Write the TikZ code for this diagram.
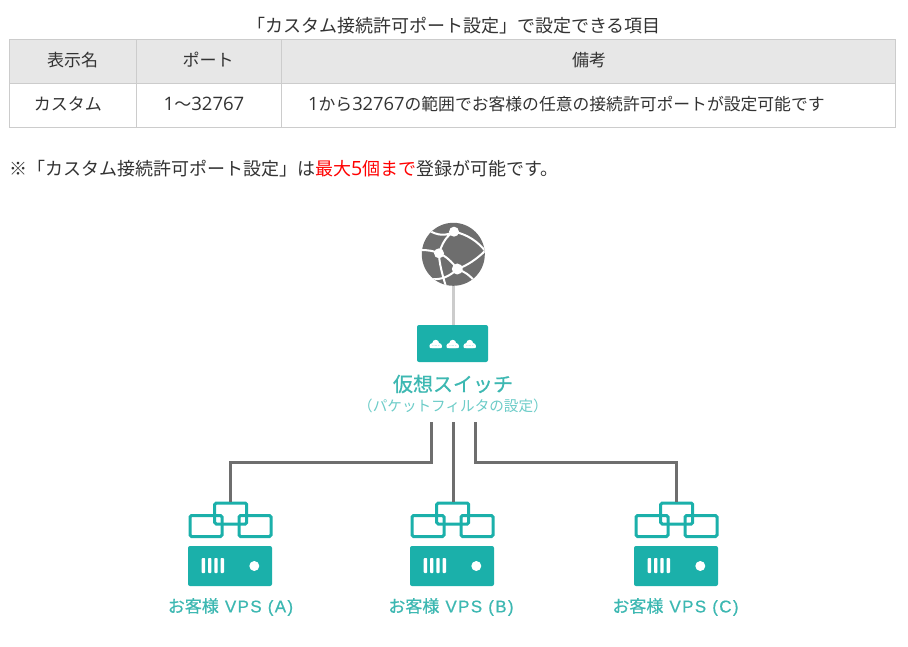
\documentclass[tikz,border=0pt]{standalone}
\usepackage{fontspec}
\setmainfont{Noto Sans CJK JP}
\newfontfamily\dig[Scale=1.09]{Open Sans}
\newfontfamily\medjp[FakeBold=0.6]{Noto Sans CJK JP}
\newfontfamily\medlat[FakeBold=0.5,LetterSpace=8]{Liberation Sans}
\definecolor{txt}{HTML}{333333}
\definecolor{teal}{HTML}{1BB0AA}
\definecolor{tealtxt}{HTML}{3DB8B2}
\definecolor{teallt}{HTML}{6CCCC8}
\definecolor{grid}{HTML}{CCCCCC}
\definecolor{head}{HTML}{E7E7E7}
\definecolor{link}{HTML}{6E6E6E}
\tikzset{
  x=1pt,y=-1pt,
  body/.style={font=\fontsize{17}{20}\selectfont,text=txt,inner sep=0pt},
  bodys/.style={font=\fontsize{16.8}{20}\selectfont,text=txt,inner sep=0pt},
  bodyl/.style={font=\fontsize{18}{20}\selectfont,text=txt,inner sep=0pt},
  cellfill/.style={fill=head,draw=none},
  gridline/.style={draw=grid,line width=1pt},
  wire/.style={draw=link,line width=3pt},
  uplink/.style={draw=grid,line width=3pt},
  netbox/.style={draw=teal,line width=3pt,rounded corners=1.5pt,fill=none,inner sep=0pt,minimum width=32pt,minimum height=21pt},
  solid teal/.style={fill=teal,draw=none,rounded corners=2pt},
  vps/.pic={
    \node[netbox] (-top) at (-0.3,11.5) {};
    \node[netbox] at (-25,24) {};
    \node[netbox] at (24,24) {};
    \fill[solid teal] (-43,44) rectangle (41,84);
    \foreach \dx in {-27.6,-21.3,-15,-8.7} \fill[white,rounded corners=0.8pt] (\dx-1.7,56) rectangle (\dx+1.7,71);
    \fill[white] (23.3,64) circle (5);
  },
  lan/.pic={
    \fill[white] (0,-0.8) circle (3.4) (-3.7,1.6) circle (2.4) (3.7,1.6) circle (2.4) (-3.7,1.6) rectangle (3.7,4);
    \fill[white] (-6.1,1.6) -- (6.1,1.6) -- (6.1,3.2) -- (5.3,4) -- (-5.3,4) -- (-6.1,3.2) -- cycle;
  }
}
\begin{document}
\begin{tikzpicture}
\useasboundingbox (0,0) rectangle (908,647);
\fill[white] (0,0) rectangle (908,647);
% table
\node[bodyl] (title) at (454,26) {「カスタム接続許可ポート設定」で設定できる項目};
\fill[cellfill] (9.5,39.5) rectangle (895.5,83.5);
\draw[gridline] (9.5,39.5) rectangle (895.5,127.5);
\draw[gridline] (9.5,83.5) -- (895.5,83.5);
\draw[gridline] (136.5,39.5) -- (136.5,127.5);
\draw[gridline] (281.5,39.5) -- (281.5,127.5);
\node[body] (h1) at (72.5,60) {表示名};
\node[body] (h2) at (208,60) {ポート};
\node[body] (h3) at (589,60) {備考};
\node[body] (c1) at (68,104) {カスタム};
\node[body] (c2) at (204,104) {{\dig 1}〜{\dig 32767}};
\node[bodys,anchor=west] (c3) at (308,104) {{\dig 1}から{\dig 32767}の範囲でお客様の任意の接続許可ポートが設定可能です};
\node[bodyl,anchor=west] (note) at (9,169) {※「カスタム接続許可ポート設定」は\textcolor{red}{最大{\dig 5}個まで}登録が可能です。};
% globe
\coordinate (gc) at (453.3,254.3);
\node[circle,fill=link,draw=none,minimum size=63pt,inner sep=0pt] (globe) at (gc) {};
\node[fill=teal,draw=none,rounded corners=2pt,minimum width=71pt,minimum height=37pt,inner sep=0pt] (switch) at (452.5,343.5) {};
\draw[uplink] (globe.south) -- (globe.south |- switch.north);
\begin{scope}
\clip (gc) circle (31.5);
\draw[white,line width=2pt]
  (428,230) .. controls (438,236) and (446,236) .. (454,231.7)
  (454,231.7) .. controls (466,234) and (478,241) .. (486,252)
  (454,231.7) .. controls (446,236) and (442,244) .. (439,253.3)
  (421,250) .. controls (428,250) and (434,251) .. (439,253.3)
  (439,253.3) .. controls (446,256) and (452,262) .. (457.3,269)
  (439,253.3) .. controls (439,262) and (442,274) .. (447,290)
  (432,279) .. controls (442,280) and (450,276) .. (457.3,269)
  (457.3,269) .. controls (466,266) and (476,260) .. (486,250)
  (457.3,269) .. controls (465,272) and (470,275) .. (475,282);
\end{scope}
\fill[white] (454,231.7) circle (5) (439,253.3) circle (5) (457.3,269) circle (5.5);
% switch
\pic at (435.7,344) {lan};
\pic at (452.7,344) {lan};
\pic at (469.7,344) {lan};
\node[font=\fontsize{20}{22}\selectfont\medjp,text=tealtxt,inner sep=0pt] (swl) at (453,384) {仮想スイッチ};
\node[font=\fontsize{14.6}{16}\selectfont,text=teallt,inner sep=0pt] (swn) at (453,406) {（パケットフィルタの設定）};
% junctions under the label
\coordinate (ja) at (431,422);
\coordinate (jb) at (453,422);
\coordinate (jc) at (475,422);
% VPS
\pic (a) at (231,502) {vps};
\pic (b) at (453,502) {vps};
\pic (c) at (677,502) {vps};
\draw[wire] (ja) -- (431,462) -| (a-top.north);
\draw[wire] (jb) -- (jb |- b-top.north);
\draw[wire] (jc) -- (475,462) -| (c-top.north);
\foreach \n/\x/\t in {la/230.5/A,lb/451/B,lc/675.5/C}
  \node[font=\fontsize{17}{18}\selectfont\medjp,text=tealtxt,inner sep=0pt] (\n) at (\x,607) {お客様{\medlat\ VPS (\t)}};
\end{tikzpicture}
\end{document}
